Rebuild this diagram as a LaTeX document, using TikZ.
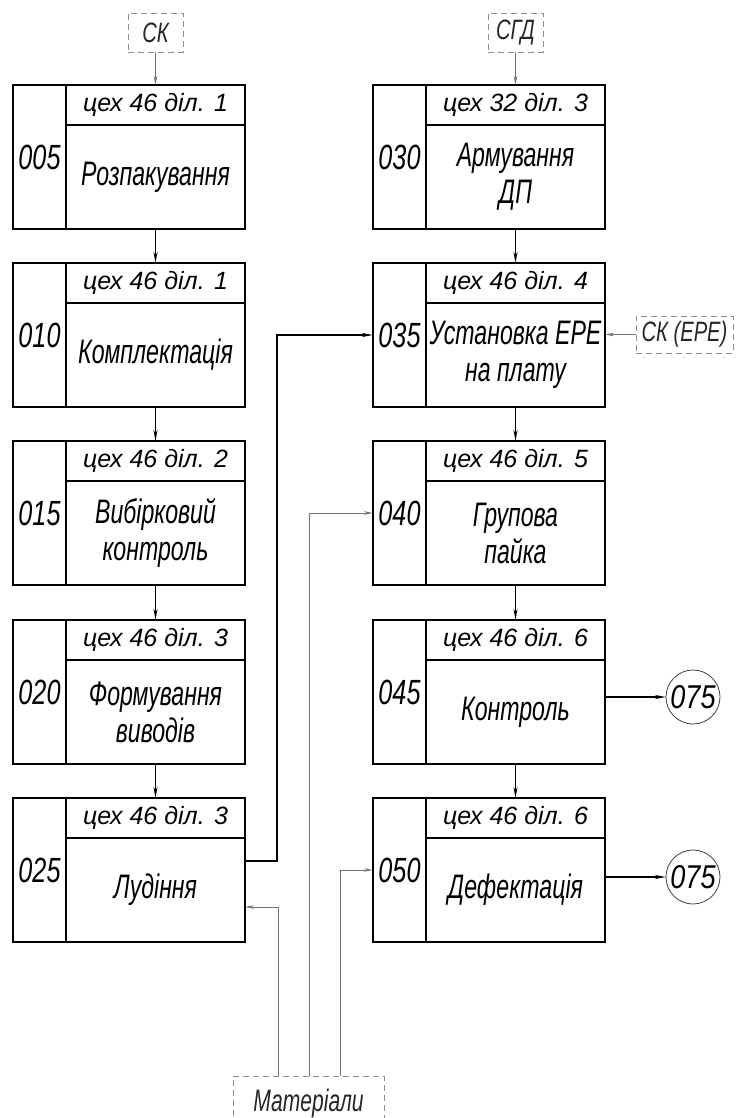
\documentclass[tikz,border=0pt]{standalone}
\usepackage{fontspec}
\setmainfont{Liberation Sans}
\newfontfamily\fmain{Liberation Sans}[FakeStretch=0.68]
\newfontfamily\fnum{Liberation Sans}[FakeStretch=0.72]
\newfontfamily\fcirc{Liberation Sans}[FakeStretch=0.82]
\usetikzlibrary{arrows.meta,calc}
\tikzset{
  opframe/.style={draw,line width=1.6pt,minimum width=232pt,minimum height=144pt,inner sep=0pt,outer sep=0pt},
  boxline/.style={line width=1.6pt},
  numtext/.style={font=\fnum\itshape\fontsize{35}{40}\selectfont,inner sep=0pt},
  hdrtext/.style={font=\itshape\fontsize{25}{30}\selectfont,inner sep=0pt},
  maintext/.style={font=\fmain\itshape\fontsize{34}{37}\selectfont,align=center,inner sep=0pt},
  dashbox/.style={draw=black!45,line width=0.8pt,dash pattern=on 6pt off 4pt,inner sep=0pt,outer sep=0pt,font=\fnum\itshape\fontsize{28}{32}\selectfont,text=black!85},
  flow/.style={line width=1.6pt,-{Stealth[length=11pt,width=4pt]}},
  supply/.style={line width=0.8pt,draw=black!55,-{Stealth[length=9pt,width=3.5pt]}},
  endcircle/.style={circle,draw=black!75,line width=0.8pt,minimum size=54pt,inner sep=0pt,outer sep=0pt,font=\fcirc\itshape\fontsize{33}{36}\selectfont},
}
\newcommand\opbox[6]{%
  \node[opframe,anchor=north west] (#1) at (#2,#3) {};
  \draw[boxline] ($(#1.north west)+(53,0)$) -- ($(#1.south west)+(53,0)$);
  \draw[boxline] ($(#1.north west)+(53,40)$) -- ($(#1.north east)+(0,40)$);
  \node[numtext] (#1n) at ($(#1.west)+(26.5,0)$) {#4};
  \node[hdrtext] (#1h) at ($(#1.north west)+(142.5,20)$) {#5};
  \node[maintext] (#1t) at ($(#1.south west)+(142.5,-52)$) {#6};
}
\begin{document}
\begin{tikzpicture}[x=1pt,y=-1pt]
\useasboundingbox (0,0) rectangle (737,1118);
% left column
\opbox{b005}{13}{85}{005}{цех 46 діл. 1}{Розпакування}
\opbox{b010}{13}{263}{010}{цех 46 діл. 1}{Комплектація}
\opbox{b015}{13}{441}{015}{цех 46 діл. 2}{Вибірковий\\контроль}
\opbox{b020}{13}{620}{020}{цех 46 діл. 3}{Формування\\виводів}
\opbox{b025}{13}{798}{025}{цех 46 діл. 3}{Лудіння}
% right column
\opbox{b030}{373}{85}{030}{цех 32 діл. 3}{Армування\\ДП}
\opbox{b035}{373}{263}{035}{цех 46 діл. 4}{Установка ЕРЕ\\на плату}
\opbox{b040}{373}{441}{040}{цех 46 діл. 5}{Групова\\пайка}
\opbox{b045}{373}{620}{045}{цех 46 діл. 6}{Контроль}
\opbox{b050}{373}{798}{050}{цех 46 діл. 6}{Дефектація}
% sources
\node[dashbox,minimum width=55pt,minimum height=39pt] (ck) at (155.5,32.5) {СК};
\node[dashbox,minimum width=55pt,minimum height=39pt] (cgd) at (515.5,32.5) {СГД};
\node[dashbox,minimum width=97pt,minimum height=37pt] (ckere) at (684.5,334.5) {СК (ЕРЕ)};
\node[dashbox,minimum width=151pt,minimum height=54pt,font=\fmain\itshape\fontsize{31}{34}\selectfont] (mat) at (308.5,1103) {Матеріали};
% end circles
\node[endcircle] (c045) at (693,697) {075};
\node[endcircle] (c050) at (693,877) {075};
% flow between boxes
\draw[flow] (b005h |- b005.south) -- (b005h |- b010.north);
\draw[flow] (b010h |- b010.south) -- (b010h |- b015.north);
\draw[flow] (b015h |- b015.south) -- (b015h |- b020.north);
\draw[flow] (b020h |- b020.south) -- (b020h |- b025.north);
\draw[flow] (b030h |- b030.south) -- (b030h |- b035.north);
\draw[flow] (b035h |- b035.south) -- (b035h |- b040.north);
\draw[flow] (b040h |- b040.south) -- (b040h |- b045.north);
\draw[flow] (b045h |- b045.south) -- (b045h |- b050.north);
\draw[flow] ([yshift=9pt]b025.east) -- ++(32,0) |- (b035.west);
\draw[flow] (c045.west -| b045.east) -- (c045.west);
\draw[flow] (c050.west -| b050.east) -- (c050.west);
% supplies
\draw[supply] (ck.south) -- (ck.south |- b005.north);
\draw[supply] (cgd.south) -- (cgd.south |- b030.north);
\draw[supply] (ckere.west) -- (ckere.west -| b035.east);
\draw[supply] ($(mat.north west)+(45,0)$) |- ([yshift=-37pt]b025.east);
\draw[supply] ($(mat.north west)+(76,0)$) |- (b040.west);
\draw[supply] ($(mat.north west)+(107,0)$) |- (b050.west);
\end{tikzpicture}
\end{document}
